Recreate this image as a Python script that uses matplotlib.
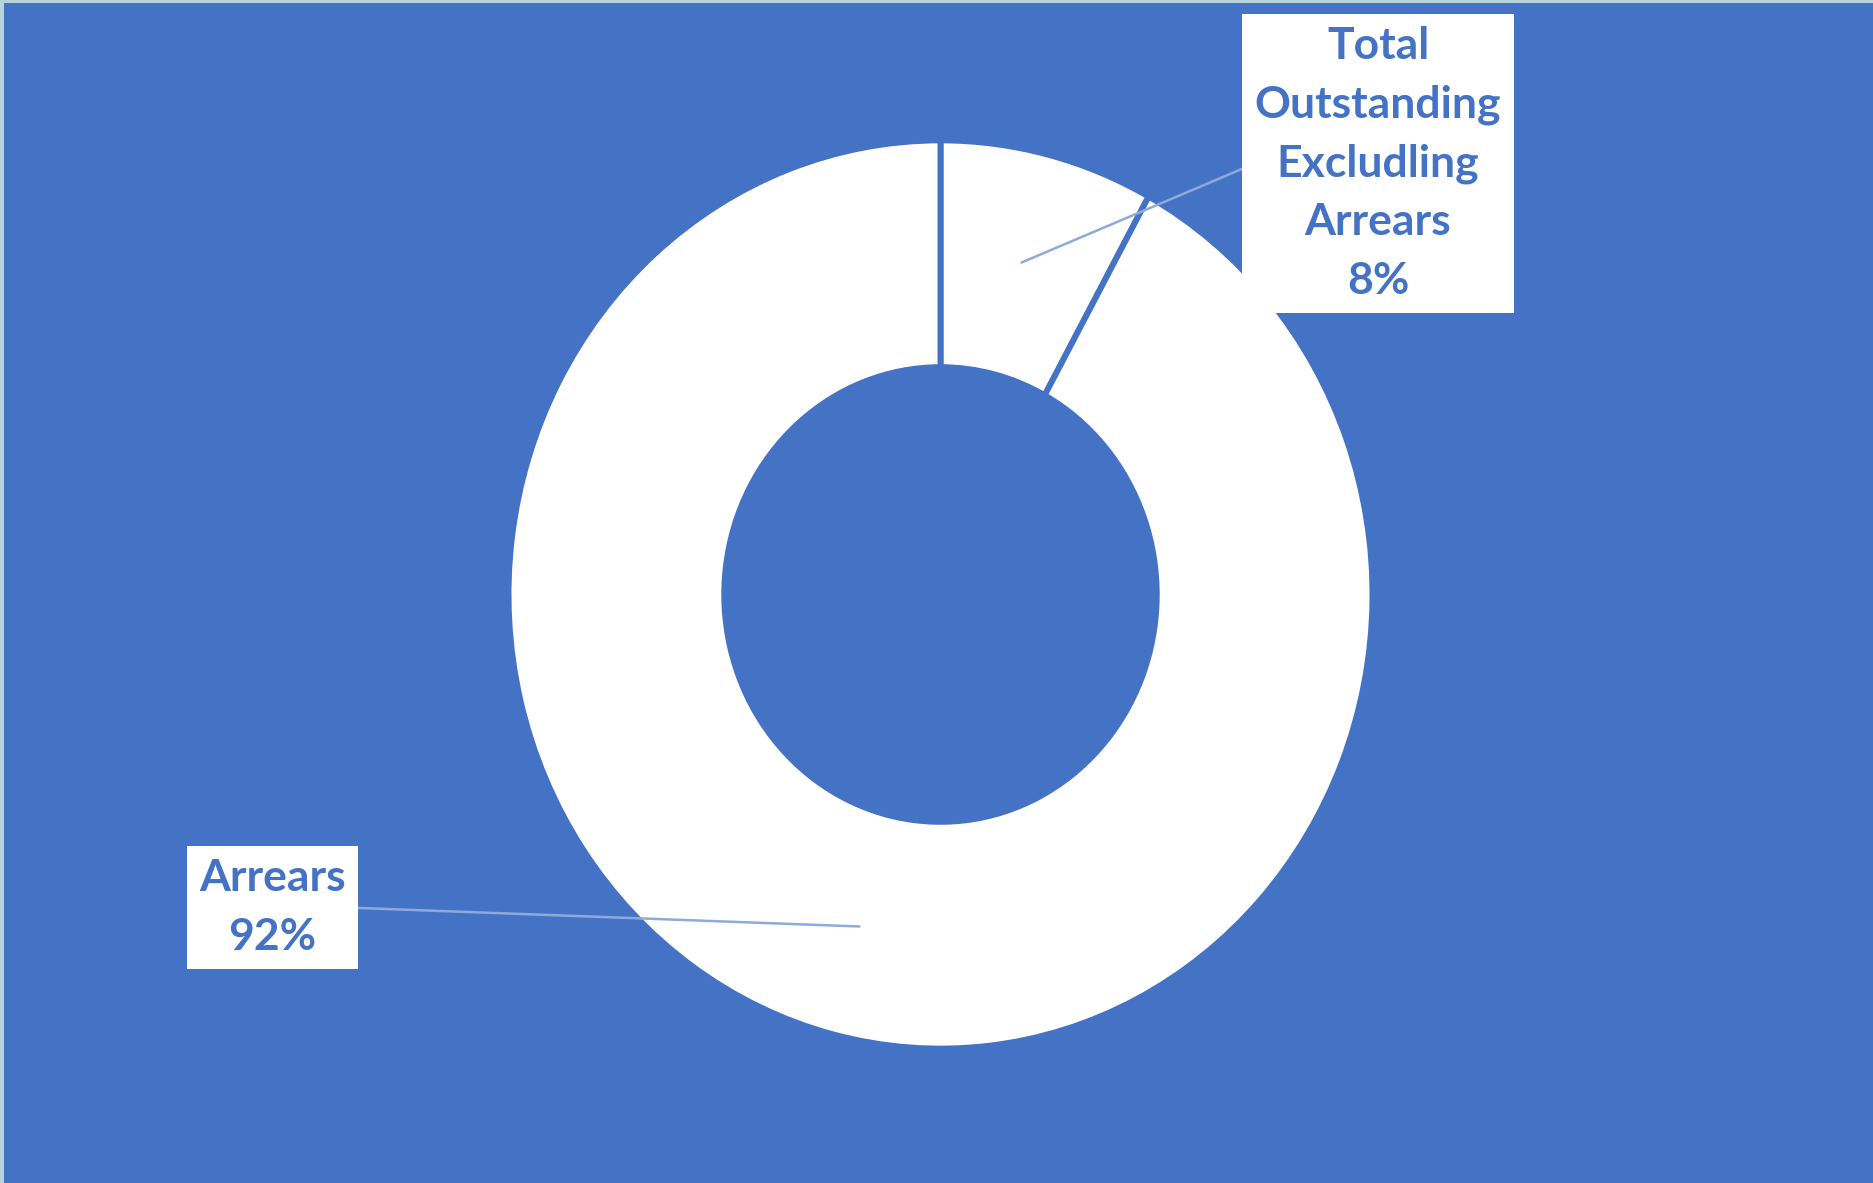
import matplotlib.pyplot as plt
from matplotlib.patches import Rectangle
import numpy as np

# data
labels = ["Total\nOutstanding\nExcludling\nArrears", "Arrears"]
shares = [8, 92]

bg = "#4472C4"
txt_col = "#4472C4"
line_col = "#8EAADB"

W, H = 1874, 1183
fig = plt.figure(figsize=(W / 100, H / 100), dpi=100, facecolor=bg)

# thin light frame at top and left
fig.add_artist(Rectangle((0, 1 - 3 / H), 1, 3 / H, transform=fig.transFigure, color="#B7D5D9", lw=0))
fig.add_artist(Rectangle((0, 0), 4 / W, 1, transform=fig.transFigure, color="#B7D5D9", lw=0))

# donut (slightly taller than wide, like the source)
cx, cy, rx, ry = 940.5, 594.5, 429, 451
ax = fig.add_axes([(cx - rx) / W, (H - cy - ry) / H, 2 * rx / W, 2 * ry / H])
ax.set_facecolor(bg)
wedges, _ = ax.pie(shares, startangle=90, counterclock=False, radius=1.007,
                   colors=["white", "white"],
                   wedgeprops=dict(width=0.503, edgecolor=bg, linewidth=4.3))
ax.set_xlim(-1, 1)
ax.set_ylim(-1, 1)
ax.set_aspect("auto")
ax.axis("off")

font = dict(family=["Lato", "DejaVu Sans"], fontweight="bold", fontsize=32, color=txt_col)

# label positions in figure pixels, and the side of the box the leader meets
spots = [((1378, H - 163.5), (0, 0.5)), ((272.5, H - 907.5), (1, 0.5))]

for w, lab, s, (pos, rel) in zip(wedges, labels, shares, spots):
    mid = np.deg2rad((w.theta1 + w.theta2) / 2)
    r = 0.76
    ax.annotate(f"{lab}\n{s}%", xy=(r * np.cos(mid), r * np.sin(mid)), xycoords="data",
                xytext=pos, textcoords="figure pixels", ha="center", va="center",
                multialignment="center", linespacing=1.56, **font,
                bbox=dict(boxstyle="square,pad=0.28", fc="white", ec="none"),
                arrowprops=dict(arrowstyle="-", color=line_col, lw=1.8, relpos=rel,
                                shrinkA=0, shrinkB=0))

fig.savefig("out.png", dpi=100, facecolor=bg)
